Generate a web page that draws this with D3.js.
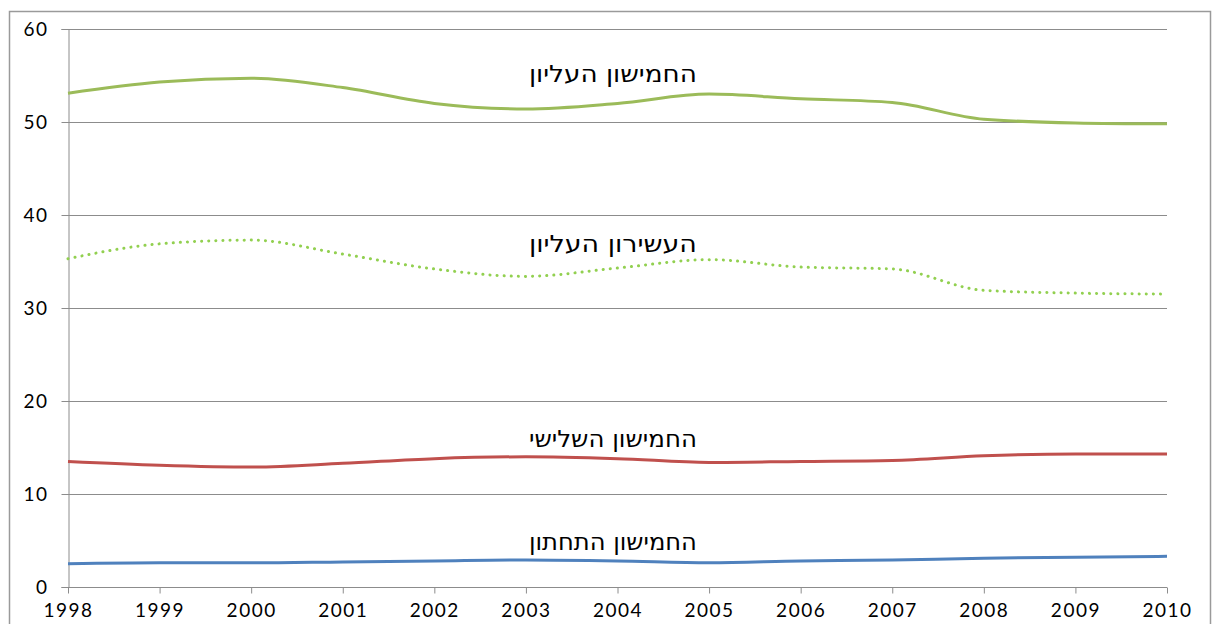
<!DOCTYPE html>
<html>
<head>
<meta charset="utf-8">
<script src="https://cdn.jsdelivr.net/npm/d3@7"></script>
<style>
  body { margin: 0; background: #fff; }
  svg { display: block; }
  .tick text { font-family: Lato, "Open Sans", sans-serif; font-size: 19px; letter-spacing: 1.5px; fill: #000; }
  .lbl { font-family: "DejaVu Sans", "Liberation Sans", sans-serif; font-size: 23px; fill: #000; }
</style>
</head>
<body>
<svg id="chart" width="1212" height="624"></svg>
<script>
// years along the bottom
const years = [1998, 1999, 2000, 2001, 2002, 2003, 2004, 2005, 2006, 2007, 2008, 2009, 2010];

// share of income
const topQuintile   = [53.1, 54.3, 54.7, 53.7, 52.0, 51.4, 52.0, 53.0, 52.5, 52.1, 50.3, 49.9, 49.8];
const topDecile     = [35.3, 36.9, 37.3, 35.8, 34.2, 33.4, 34.3, 35.2, 34.4, 34.2, 31.9, 31.6, 31.5];
const thirdQuintile = [13.5, 13.1, 12.9, 13.3, 13.8, 14.0, 13.8, 13.4, 13.5, 13.6, 14.1, 14.3, 14.3];
const lowQuintile   = [2.5, 2.6, 2.6, 2.7, 2.8, 2.9, 2.8, 2.6, 2.8, 2.9, 3.1, 3.2, 3.3];

const yTicks = [0, 10, 20, 30, 40, 50, 60];

// label: value at which the series name sits
const series = [
  { name: "החמישון העליון", values: topQuintile, color: "#9BBB59", dash: null, width: 3, label: 54.3 },
  { name: "העשירון העליון", values: topDecile, color: "#92D050", dash: "0.1,7", width: 3, label: 36.0 },
  { name: "החמישון השלישי", values: thirdQuintile, color: "#C0504D", dash: null, width: 3, label: 15.05 },
  { name: "החמישון התחתון", values: lowQuintile, color: "#4F81BD", dash: null, width: 3, label: 4.0 }
];

const svg = d3.select("#chart");
const plotL = 68, plotR = 1167, plotT = 29, plotB = 587;

// outer chart frame
svg.append("rect")
  .attr("x", 9.5).attr("y", 11.5)
  .attr("width", 1201).attr("height", 640)
  .attr("fill", "none")
  .attr("stroke", "#9a9a9a")
  .attr("stroke-width", 1.5);

const x = d3.scaleLinear().domain([1998, 2010]).range([plotL, plotR]);
const y = d3.scaleLinear().domain([0, 60]).range([plotB, plotT]);

// gridlines
svg.append("g")
  .selectAll("line")
  .data(yTicks.filter(d => d > 0))
  .join("line")
  .attr("x1", plotL).attr("x2", plotR)
  .attr("y1", d => Math.round(y(d)) + 0.5)
  .attr("y2", d => Math.round(y(d)) + 0.5)
  .attr("stroke", "#8c8c8c");

const yAxis = svg.append("g")
  .attr("transform", `translate(${plotL + 0.5},0)`)
  .call(d3.axisLeft(y).tickValues(yTicks).tickSize(7).tickPadding(13));
yAxis.selectAll("path, line").attr("stroke", "#8c8c8c");

const xAxis = svg.append("g")
  .attr("transform", `translate(0,${plotB + 0.5})`)
  .call(d3.axisBottom(x).tickValues(years).tickFormat(d3.format("d")).tickSize(6).tickPadding(10));
xAxis.selectAll("path, line").attr("stroke", "#8c8c8c");
xAxis.select(".domain").attr("d", `M${plotL},0H${plotR}`);

// smooth lines, but keep the turns at the data points
const line = d3.line()
  .x((d, i) => x(years[i]))
  .y(d => y(d))
  .curve(d3.curveMonotoneX);

series.forEach(s => {
  svg.append("path")
    .datum(s.values)
    .attr("d", line)
    .attr("fill", "none")
    .attr("stroke", s.color)
    .attr("stroke-width", s.width)
    .attr("stroke-dasharray", s.dash)
    .attr("stroke-linecap", s.dash ? "round" : "butt");

  svg.append("text")
    .attr("class", "lbl")
    .attr("x", x(2003.95))
    .attr("y", y(s.label))
    .attr("text-anchor", "middle")
    .attr("direction", "rtl")
    .attr("textLength", 168)
    .attr("lengthAdjust", "spacingAndGlyphs")
    .text(s.name);
});
</script>
</body>
</html>
